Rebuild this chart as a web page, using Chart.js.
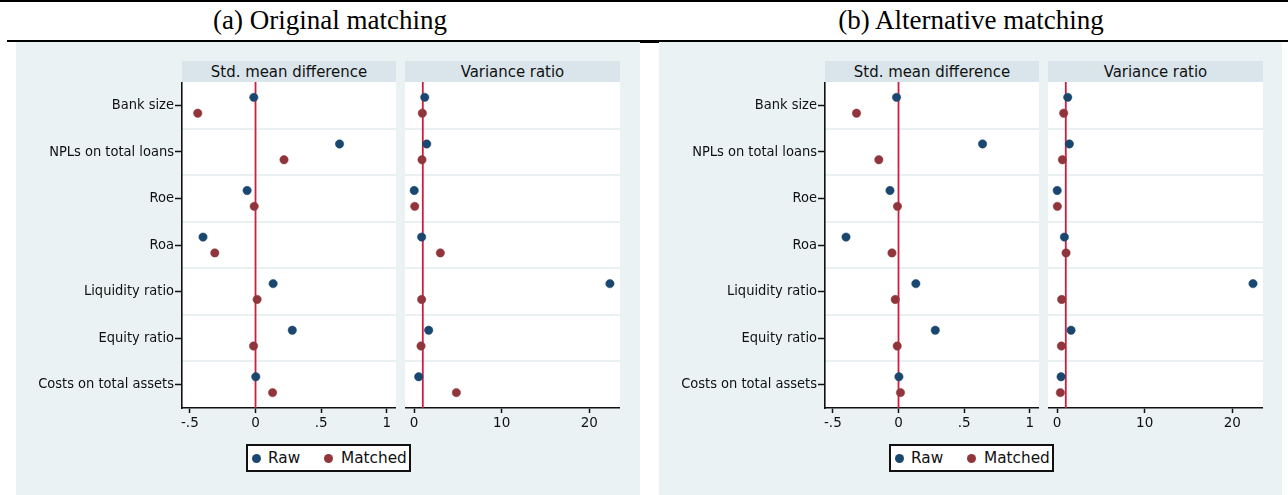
<!DOCTYPE html>
<html>
<head>
<meta charset="utf-8">
<script src="https://cdn.jsdelivr.net/npm/chart.js@4.4.0/dist/chart.umd.min.js"></script>
<style>
  html, body { margin: 0; padding: 0; }
  body { width: 1288px; height: 495px; background: #ffffff; position: relative; overflow: hidden;
         font-family: "DejaVu Sans", sans-serif; color: #111; }
  .rule { position: absolute; background: #000; }
  .title { position: absolute; top: 0; height: 40px; line-height: 40px; text-align: center;
           font-family: "Liberation Serif", "Times New Roman", serif; font-size: 27px; color: #000; }
  .region { position: absolute; top: 42px; height: 453px; background: #eaf2f3; }
  .strip { position: absolute; top: 61px; height: 21px; line-height: 21px; background: #d9e5eb;
           text-align: center; font-family: "DejaVu Sans Condensed", "DejaVu Sans", sans-serif;
           font-size: 16.6px; color: #111; }
  .legend { position: absolute; top: 444px; width: 161px; height: 24px; background: #fff;
            border: 2px solid #111; }
  .legend .dot { position: absolute; top: 8px; width: 9px; height: 9px; border-radius: 50%; }
  .legend .lab { position: absolute; top: 0; line-height: 25px; font-size: 15.3px; color: #111;
                 font-family: "DejaVu Sans", sans-serif; }
  canvas { position: absolute; }
</style>
</head>
<body>

<!-- rules and figure titles -->
<div class="rule" style="left:0; top:0; width:1288px; height:2px;"></div>
<div class="rule" style="left:7px; top:40px; width:1281px; height:2px;"></div>
<div class="rule" style="left:640px; top:40px; width:19px; height:3px;"></div>
<div class="title" style="left:0; width:660px;">(a) Original matching</div>
<div class="title" style="left:659px; width:624px;">(b) Alternative matching</div>

<!-- graph regions -->
<div class="region" style="left:16px; width:624px;"></div>
<div class="region" style="left:659px; width:623px;"></div>

<!-- panel strips -->
<div class="strip" style="left:182px; width:214px;">Std. mean difference</div>
<div class="strip" style="left:405px; width:215px;">Variance ratio</div>
<div class="strip" style="left:825px; width:214px;">Std. mean difference</div>
<div class="strip" style="left:1048px; width:215px;">Variance ratio</div>

<canvas id="smdA" width="380" height="356" style="left:16px; top:82px;"></canvas>
<canvas id="vrA" width="215" height="356" style="left:405px; top:82px;"></canvas>
<canvas id="smdB" width="380" height="356" style="left:659px; top:82px;"></canvas>
<canvas id="vrB" width="215" height="356" style="left:1048px; top:82px;"></canvas>

<!-- legends -->
<div class="legend" style="left:246px;">
  <div class="dot" style="left:4px; background:#1a476f;"></div>
  <div class="lab" style="left:20px;">Raw</div>
  <div class="dot" style="left:76px; background:#90353b;"></div>
  <div class="lab" style="left:93px;">Matched</div>
</div>
<div class="legend" style="left:889px;">
  <div class="dot" style="left:4px; background:#1a476f;"></div>
  <div class="lab" style="left:20px;">Raw</div>
  <div class="dot" style="left:76px; background:#90353b;"></div>
  <div class="lab" style="left:93px;">Matched</div>
</div>

<script>
// Covariates, top to bottom
const covariates = ['Bank size', 'NPLs on total loans', 'Roe', 'Roa',
                    'Liquidity ratio', 'Equity ratio', 'Costs on total assets'];

// (a) Original matching
const smdRawA     = [-0.013, 0.64, -0.064, -0.40, 0.134, 0.28, 0.002];
const smdMatchedA = [-0.44, 0.217, -0.01, -0.31, 0.012, -0.015, 0.13];
const vrRawA      = [1.22, 1.45, 0.02, 0.87, 22.35, 1.67, 0.53];
const vrMatchedA  = [0.95, 0.91, 0.08, 3.0, 0.87, 0.80, 4.83];

// (b) Alternative matching
const smdRawB     = [-0.015, 0.64, -0.065, -0.40, 0.132, 0.28, 0.003];
const smdMatchedB = [-0.32, -0.15, -0.008, -0.05, -0.025, -0.01, 0.015];
const vrRawB      = [1.22, 1.41, 0.02, 0.84, 22.36, 1.60, 0.46];
const vrMatchedB  = [0.76, 0.61, 0.04, 1.03, 0.53, 0.50, 0.38];

// Axis ticks
const smdTicks      = [-0.5, 0, 0.5, 1];
const smdTickLabels = ['-.5', '0', '.5', '1'];
const vrTicks       = [0, 10, 20];
const vrTickLabels  = ['0', '10', '20'];

// Reference lines: no difference / equal variance
const smdReference = 0;
const vrReference  = 1;

const RAW_COLOR = '#1a476f';
const MATCHED_COLOR = '#90353b';
const REF_COLOR = '#cc1f3f';
const BAND_COLOR = '#e8f0f2';
const ROW_SHIFT = 0.17;   // vertical offset of raw / matched markers within a row

// white plot region behind the markers
const plotBackground = {
  id: 'plotBackground',
  beforeDraw(chart) {
    const { ctx, chartArea: a } = chart;
    ctx.save();
    ctx.fillStyle = '#ffffff';
    ctx.fillRect(a.left, a.top, a.right - a.left, a.bottom - a.top);
    ctx.restore();
  }
};

function points(values, shift) {
  return values.map((v, i) => ({ x: v, y: i + 1 + shift }));
}

// scales span the full plot region: no extra room for edge labels
function noPadding(s) {
  s.paddingTop = 0; s.paddingBottom = 0; s.paddingLeft = 0; s.paddingRight = 0;
}

function makePanel(id, raw, matched, ref, xMin, xMax, ticks, tickLabels, withLabels) {
  const n = covariates.length;
  const rowTicks = covariates.map((_, i) => i + 1);
  const bandTicks = covariates.slice(1).map((_, i) => i + 1.5);
  const tickFont = { family: '"DejaVu Sans Condensed", "DejaVu Sans", sans-serif', size: 14.5 };

  const scales = {
    x: {
      type: 'linear', min: xMin, max: xMax,
      afterBuildTicks: s => { s.ticks = ticks.map(v => ({ value: v })); },
      afterFit: s => { s.height = 30; noPadding(s); },
      ticks: {
        color: '#111', padding: 2, maxRotation: 0, autoSkip: false,
        font: { family: '"DejaVu Sans", sans-serif', size: 13.5 },
        callback: (v) => tickLabels[ticks.indexOf(v)]
      },
      grid: { drawOnChartArea: false, drawTicks: true, tickLength: 5, tickColor: '#111', tickWidth: 1.5 },
      border: { display: true, color: '#111', width: 1.6 }
    },
    bands: {
      type: 'linear', position: 'left', min: 0.5, max: n + 0.5, reverse: true,
      afterBuildTicks: s => { s.ticks = bandTicks.map(v => ({ value: v })); },
      afterFit: s => { s.width = 0; noPadding(s); },
      ticks: { display: false },
      grid: { drawOnChartArea: true, drawTicks: false, color: BAND_COLOR, lineWidth: 2 },
      border: { display: false }
    },
    y: {
      type: 'linear', position: 'left', min: 0.5, max: n + 0.5, reverse: true,
      display: withLabels,
      afterBuildTicks: s => { s.ticks = rowTicks.map(v => ({ value: v })); },
      afterFit: s => { s.width = withLabels ? 166 : 0; noPadding(s); },
      ticks: {
        color: '#111', padding: 1, autoSkip: false, font: tickFont,
        callback: (v) => covariates[v - 1]
      },
      grid: { drawOnChartArea: false, drawTicks: true, tickLength: 7, tickColor: '#111', tickWidth: 1.5 },
      border: { display: true, color: '#111', width: 1.6 }
    }
  };

  new Chart(document.getElementById(id), {
    type: 'scatter',
    data: {
      datasets: [
        { label: 'Raw', data: points(raw, -ROW_SHIFT), yAxisID: 'y',
          pointStyle: 'circle', pointRadius: 4.2, pointBackgroundColor: RAW_COLOR,
          pointBorderColor: RAW_COLOR, pointBorderWidth: 0.5 },
        { label: 'Matched', data: points(matched, ROW_SHIFT), yAxisID: 'y',
          pointStyle: 'circle', pointRadius: 4.2, pointBackgroundColor: MATCHED_COLOR,
          pointBorderColor: MATCHED_COLOR, pointBorderWidth: 0.5 },
        { label: 'ref', data: [{ x: ref, y: 0.5 }, { x: ref, y: n + 0.5 }], yAxisID: 'y',
          showLine: true, pointRadius: 0, borderColor: REF_COLOR, borderWidth: 1.8 }
      ]
    },
    options: {
      responsive: false, animation: false, devicePixelRatio: 1,
      layout: { padding: 0, autoPadding: false },
      plugins: { legend: { display: false }, tooltip: { enabled: false } },
      scales
    },
    plugins: [plotBackground]
  });
}

makePanel('smdA', smdRawA, smdMatchedA, smdReference, -0.56, 1.07, smdTicks, smdTickLabels, true);
makePanel('vrA',  vrRawA,  vrMatchedA,  vrReference,  -1.03, 23.5, vrTicks,  vrTickLabels,  false);
makePanel('smdB', smdRawB, smdMatchedB, smdReference, -0.56, 1.07, smdTicks, smdTickLabels, true);
makePanel('vrB',  vrRawB,  vrMatchedB,  vrReference,  -1.03, 23.5, vrTicks,  vrTickLabels,  false);
</script>
</body>
</html>
